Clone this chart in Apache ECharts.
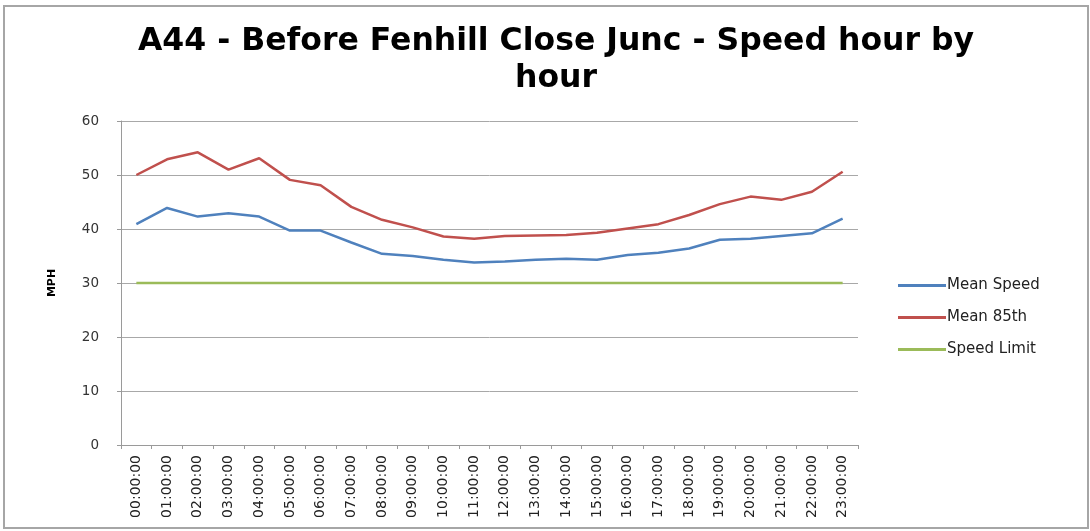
<!DOCTYPE html>
<html>
<head>
<meta charset="utf-8">
<script src="https://cdn.jsdelivr.net/npm/echarts@6/dist/echarts.min.js"></script>
<style>
  html, body { margin: 0; padding: 0; background: #fff; }
  #chart { width: 1090px; height: 531px; }
</style>
</head>
<body>
<div id="chart"></div>
<script>
// hours of the day
const hours = ['00:00:00', '01:00:00', '02:00:00', '03:00:00', '04:00:00', '05:00:00',
  '06:00:00', '07:00:00', '08:00:00', '09:00:00', '10:00:00', '11:00:00',
  '12:00:00', '13:00:00', '14:00:00', '15:00:00', '16:00:00', '17:00:00',
  '18:00:00', '19:00:00', '20:00:00', '21:00:00', '22:00:00', '23:00:00']

// MPH values
const meanSpeed = [40.9, 43.9, 42.3, 42.9, 42.3, 39.7, 39.7, 37.5, 35.4, 35.0, 34.3, 33.8,
  34.0, 34.3, 34.5, 34.3, 35.2, 35.6, 36.4, 38.0, 38.2, 38.7, 39.2, 41.9]
const mean85th = [50.0, 52.9, 54.2, 51.0, 53.1, 49.1, 48.1, 44.1, 41.7, 40.3, 38.6, 38.2,
  38.7, 38.8, 38.9, 39.3, 40.1, 40.9, 42.6, 44.6, 46.0, 45.4, 46.9, 50.6]
const speedLimit = [30, 30, 30, 30, 30, 30, 30, 30, 30, 30, 30, 30,
  30, 30, 30, 30, 30, 30, 30, 30, 30, 30, 30, 30]

const chart = echarts.init(document.getElementById('chart'))

const lineSeries = (name, data, color) => ({
  name: name,
  type: 'line',
  data: data,
  symbol: 'none',
  lineStyle: { color: color, width: 2.5 },
  itemStyle: { color: color },
  emphasis: { disabled: true },
})

chart.setOption({
  animation: false,
  textStyle: { fontFamily: 'DejaVu Sans' },
  title: {
    text: 'A44 - Before Fenhill Close Junc - Speed hour by\nhour',
    left: 551,
    textAlign: 'center',
    top: 18,
    textStyle: {
      fontFamily: 'DejaVu Sans',
      fontWeight: 'bold',
      fontSize: 31.5,
      lineHeight: 37,
      color: '#000',
    },
  },
  graphic: [
    {
      type: 'rect',
      shape: { x: 4, y: 6, width: 1084, height: 522 },
      style: { fill: null, stroke: '#a6a6a6', lineWidth: 2 },
      silent: true,
    },
  ],
  legend: {
    orient: 'vertical',
    left: 893,
    top: 273,
    itemWidth: 48,
    itemHeight: 3,
    itemGap: 17,
    icon: 'rect',
    textStyle: { fontFamily: 'DejaVu Sans', fontSize: 15, color: '#222', padding: [0, 0, 0, -4] },
    data: ['Mean Speed', 'Mean 85th', 'Speed Limit'],
  },
  grid: { left: 121, right: 232, top: 121, bottom: 86 },
  xAxis: {
    type: 'category',
    data: hours,
    boundaryGap: true,
    axisLine: { lineStyle: { color: '#9a9a9a', width: 1 } },
    axisTick: { show: true, length: 4, lineStyle: { color: '#9a9a9a' } },
    axisLabel: { rotate: 90, fontSize: 14, color: '#222', margin: 10, interval: 0 },
  },
  yAxis: {
    type: 'value',
    min: 0,
    max: 60,
    interval: 10,
    name: 'MPH',
    nameLocation: 'middle',
    nameGap: 63,
    nameTextStyle: { fontFamily: 'DejaVu Sans', fontSize: 11, fontWeight: 'bold', color: '#000' },
    axisLine: { show: true, lineStyle: { color: '#9a9a9a', width: 1 } },
    axisTick: { show: true, length: 4, lineStyle: { color: '#9a9a9a' } },
    axisLabel: { fontSize: 13.5, color: '#333', margin: 22 },
    splitLine: { lineStyle: { color: '#a8a8a8', width: 1 } },
  },
  series: [
    lineSeries('Mean Speed', meanSpeed, '#4f81bd'),
    lineSeries('Mean 85th', mean85th, '#c0504d'),
    lineSeries('Speed Limit', speedLimit, '#9bbb59'),
  ],
})
</script>
</body>
</html>
